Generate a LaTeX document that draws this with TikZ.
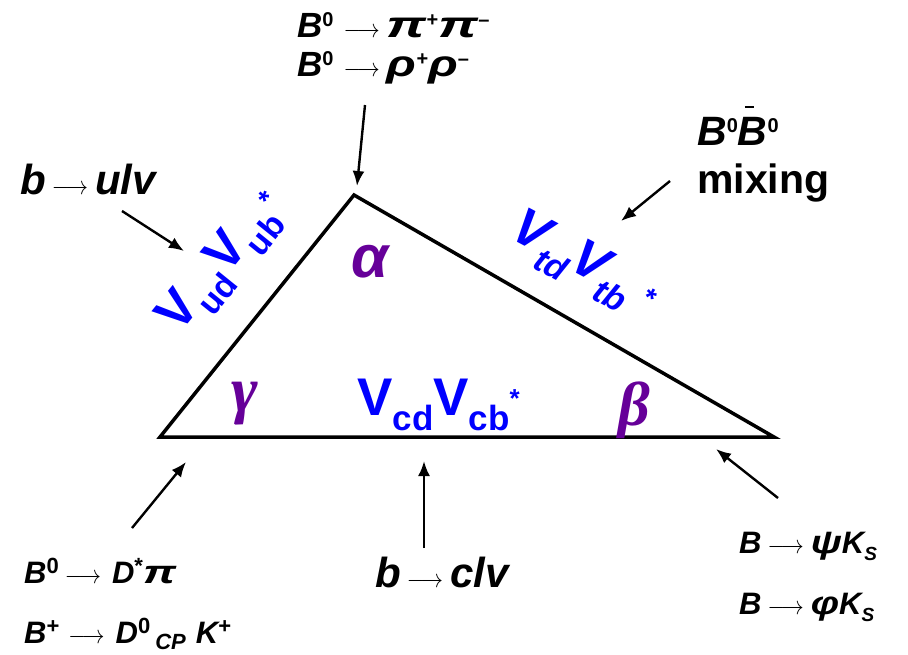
\documentclass[tikz,border=0pt]{standalone}
\usepackage{fontspec}
\setmainfont{Liberation Sans}
\newfontfamily\serf{Liberation Serif}
\usetikzlibrary{arrows.meta}
\definecolor{vblue}{RGB}{0,0,255}
\definecolor{angpurple}{RGB}{102,0,153}
\newcommand\fs[1]{\fontsize{#1}{#1}\selectfont}
\newcommand\upsup[1]{\raisebox{0.3em}{\fs{20}\upshape\bfseries #1}}
\newcommand\bigsup[1]{\raisebox{0.3em}{\fs{22}\upshape\bfseries #1}}
\newcommand\arr{\hspace{6pt}\scalebox{2.25}[2.6]{\fs{10}$\longrightarrow$}\hspace{7pt}}
\newcommand\gk[2]{\scalebox{#1}[1.05]{#2}}
\newcommand\Bbarx{\makebox[0pt][l]{\hspace{0.17em}\rule[0.9em]{0.22em}{0.05em}}B}
\begin{document}
\begin{tikzpicture}[x=1pt,y=-1pt,
  lab/.style={inner sep=0pt,anchor=base west,font=\bfseries\itshape},
  ckm/.style={inner sep=0pt,text=vblue,font=\bfseries},
  ang/.style={inner sep=0pt,text=angpurple,font=\bfseries\itshape},
  side/.style={line width=3.5pt,line join=miter},
  pointer/.style={line width=2.4pt,-{Latex[length=15pt,width=12pt]}}]
\useasboundingbox (0,0) rectangle (908,654);
% triangle
\coordinate (L) at (160,437);
\coordinate (T) at (354,195);
\coordinate (R) at (774,437);
\draw[side] (L) -- (T) -- (R) -- cycle;
% labels
\node[lab] (top1) at (297,37) {\fs{35}B\upsup{0}\hspace{4pt}\arr \gk{1.6}{π}\upsup{+}\gk{1.6}{π}\upsup{--}};
\node[lab] (top2) at (297,76) {\fs{35}B\upsup{0}\hspace{4pt}\arr \gk{1.4}{ρ}\upsup{+}\gk{1.4}{ρ}\upsup{--}};
\node[lab] (ulv) at (20,194) {\fs{42}b\arr ulv};
\node[lab] (mix1) at (697,145) {\fs{41}B\upsup{0}\Bbarx\upsup{0}};
\node[lab,font=\bfseries] (mix2) at (697,193) {\fs{41}mixing};
\node[lab] (dpi) at (24,583) {\fs{31}B\bigsup{0}\arr\hspace{4pt}D\bigsup{*}\gk{1.5}{π}};
\node[lab] (dk) at (24,643) {\fs{31}B\bigsup{+}\hspace{3pt}\arr\hspace{4pt}D\bigsup{0}\hspace{5pt}\raisebox{-0.22em}{\fs{22}CP}\hspace{10pt}K\bigsup{+}};
\node[lab] (clv) at (375,587) {\fs{42}b\arr clv};
\node[lab] (psik) at (739,553) {\fs{31}B\arr \gk{1.3}{ψ}K\raisebox{-0.25em}{\fs{19}S}};
\node[lab] (phik) at (739,614) {\fs{31}B\arr \gk{1.3}{φ}K\raisebox{-0.25em}{\fs{19}S}};
% CKM labels
\node[ckm,rotate=51,anchor=base] (vub) at (232,270) {\fs{52}V\raisebox{-0.3em}{\fs{34}ud}V\raisebox{-0.3em}{\fs{34}ub}\hspace{0.05em}\raisebox{0.15em}{\fs{28}*}};
\node[ckm,rotate=-28,anchor=base,font=\bfseries\itshape] (vtb) at (578,274) {\fs{52}V\raisebox{-0.3em}{\fs{34}td}V\raisebox{-0.3em}{\fs{34}tb}\hspace{0.25em}\raisebox{0.05em}{\fs{28}*}};
\node[ckm,anchor=base west] (vcb) at (357,415) {\fs{53}V\raisebox{-0.3em}{\fs{35}cd}V\raisebox{-0.3em}{\fs{35}cb}\raisebox{0.15em}{\fs{26}*}};
% angles
\node[ang] (alpha) at (370,262) {\fs{60}α};
\node[ang,font=\serf\bfseries\itshape] (gamma) at (245,404) {\fs{64}γ};
\node[ang,font=\serf\bfseries\itshape] (beta) at (634,410) {\fs{62}β};
% pointer arrows
\coordinate (p1s) at (365,105); \coordinate (p1e) at (357,186);
\coordinate (p2s) at (122,211); \coordinate (p2e) at (184,251);
\coordinate (p3s) at (670,181); \coordinate (p3e) at (621,221);
\coordinate (p4s) at (132,528); \coordinate (p4e) at (186,462);
\coordinate (p5s) at (424,548); \coordinate (p5e) at (424,461);
\coordinate (p6s) at (778,498); \coordinate (p6e) at (716,449);
\draw[pointer] (p1s) -- (p1e);
\draw[pointer] (p2s) -- (p2e);
\draw[pointer] (p3s) -- (p3e);
\draw[pointer] (p4s) -- (p4e);
\draw[pointer] (p5s) -- (p5e);
\draw[pointer] (p6s) -- (p6e);
\end{tikzpicture}
\end{document}
